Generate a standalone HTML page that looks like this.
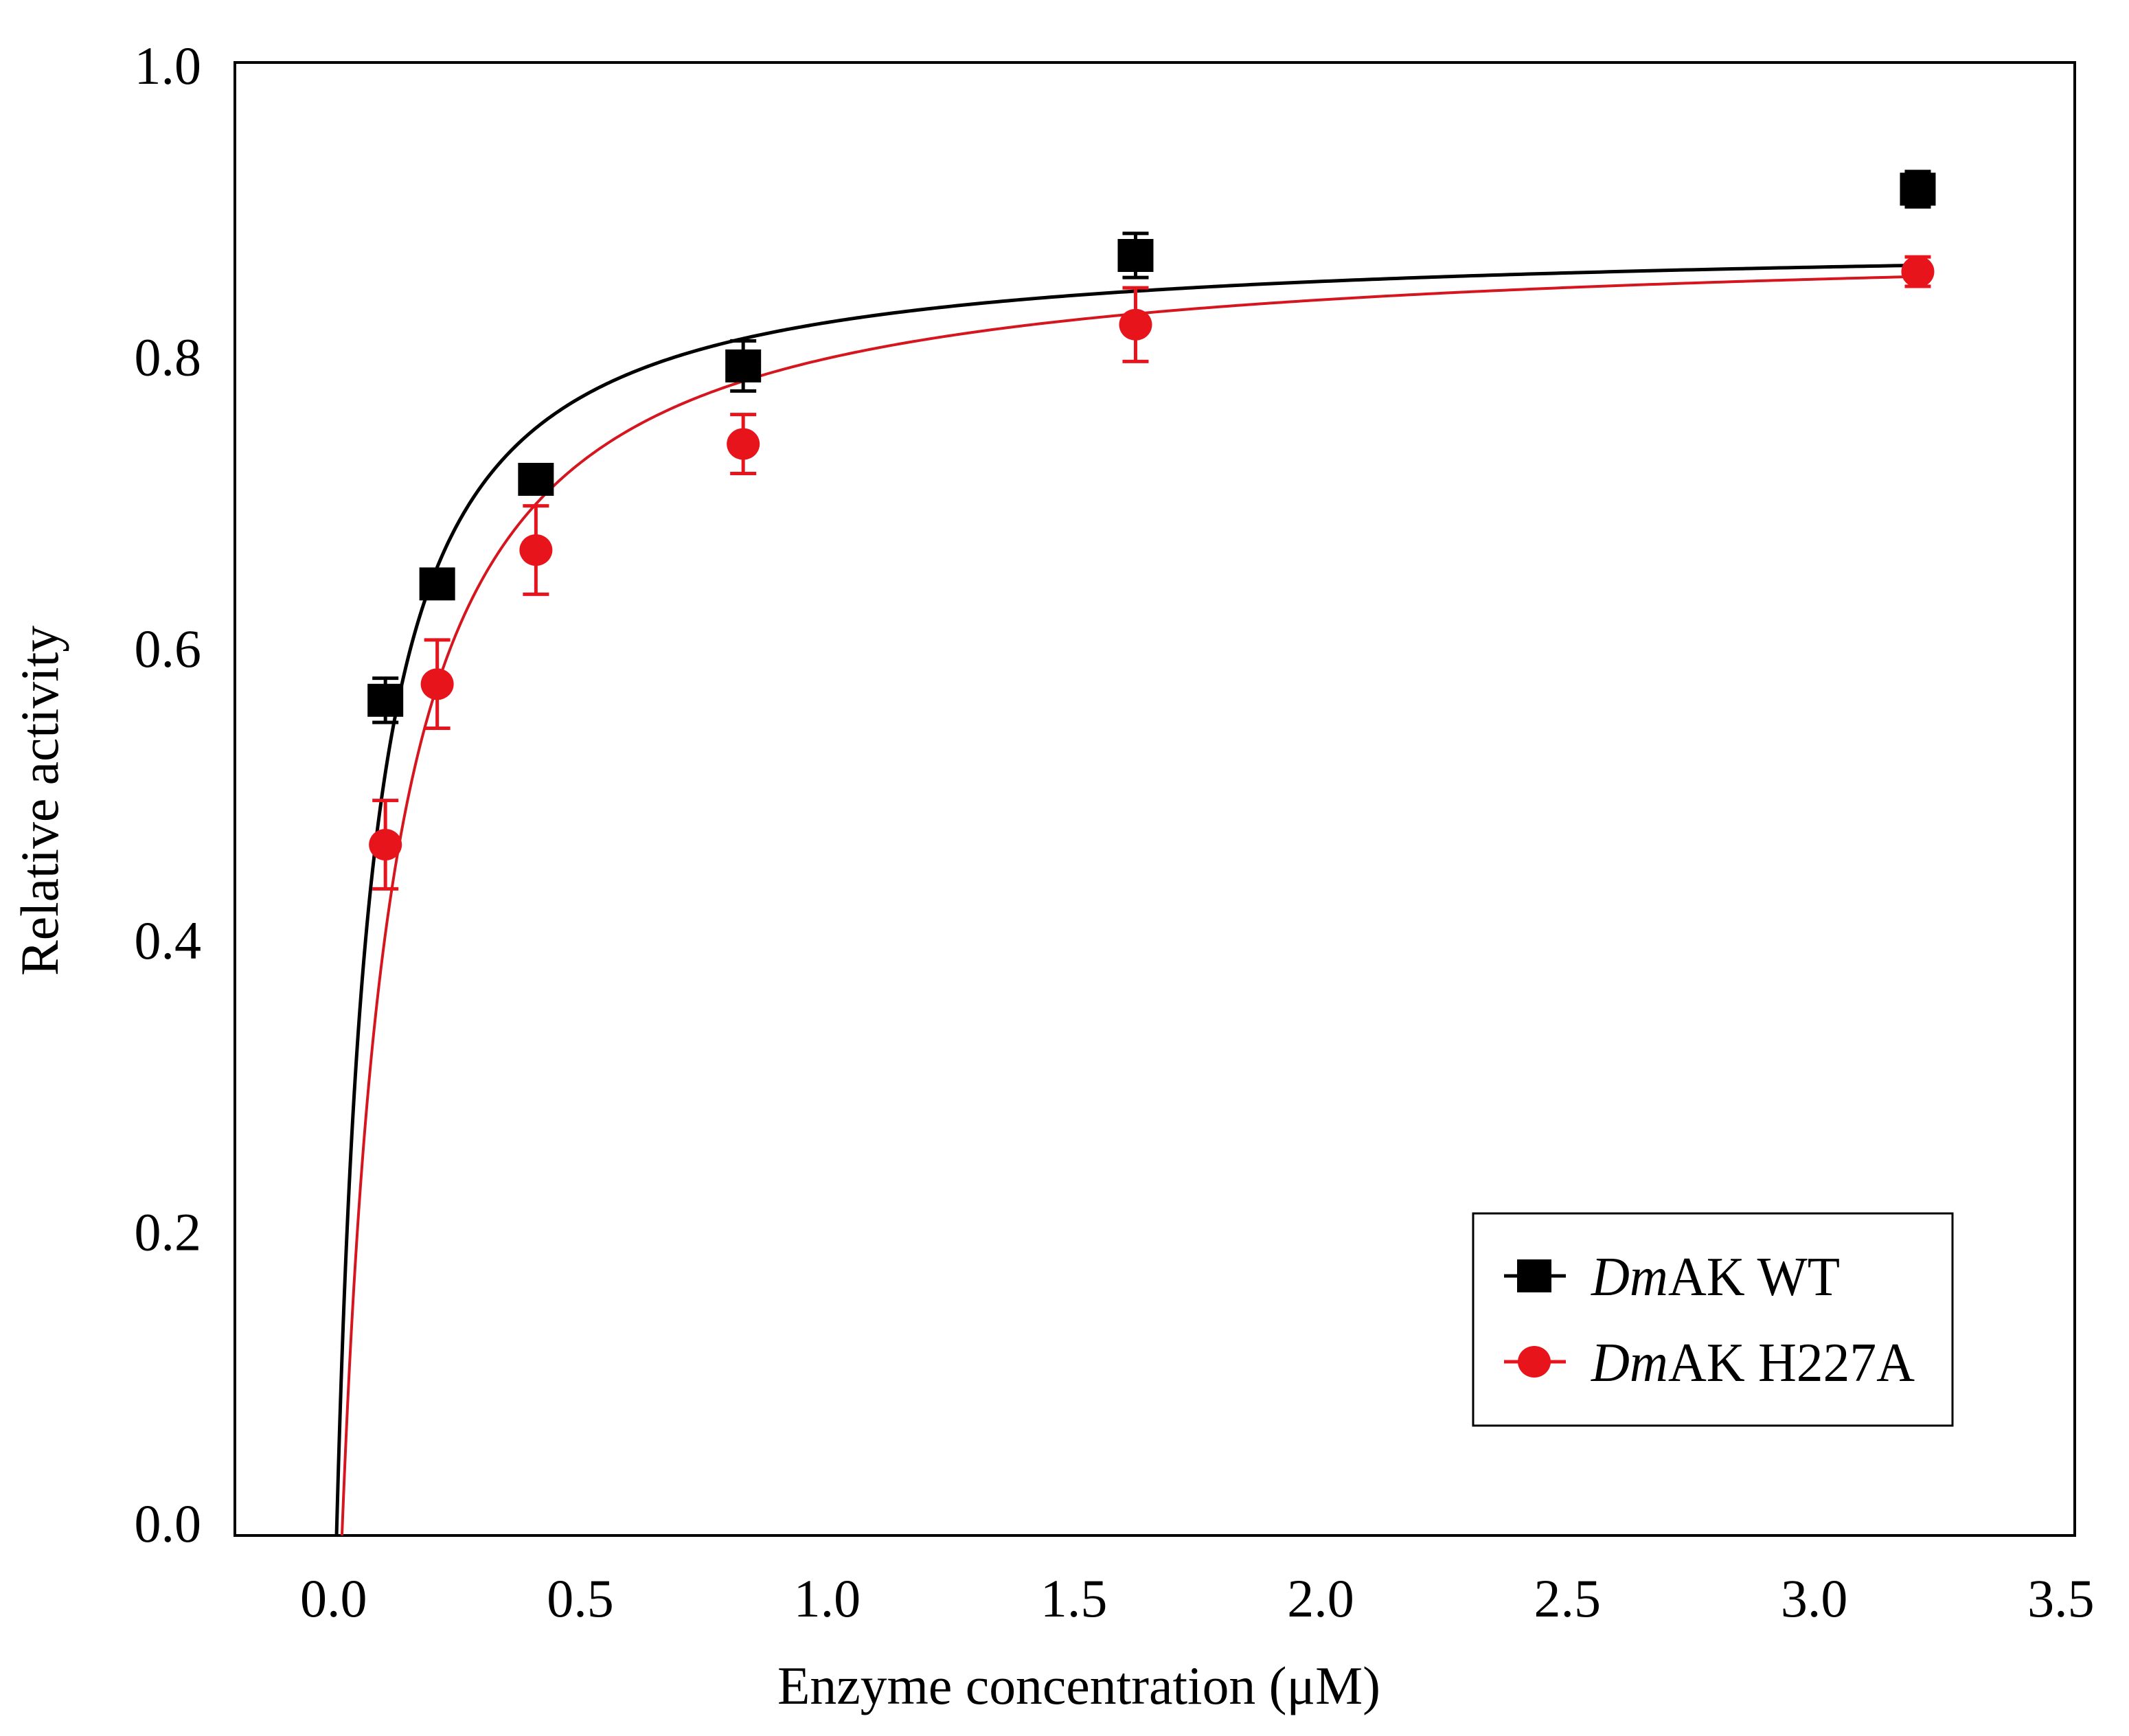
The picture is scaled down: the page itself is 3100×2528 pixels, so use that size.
<!DOCTYPE html>
<html><head><meta charset="utf-8"><style>
html,body{margin:0;padding:0;background:#fff;}
svg{display:block;}
text{font-family:"Liberation Serif","Times New Roman",serif;fill:#000;}
</style></head><body>
<svg id="chart" width="3100" height="2528" viewBox="0 0 3100 2528" xmlns="http://www.w3.org/2000/svg">
<defs><clipPath id="plotclip"><rect x="342" y="91" width="2679" height="2145"/></clipPath></defs>
<rect x="342" y="91" width="2679" height="2145" fill="none" stroke="#000" stroke-width="4"/>
<g id="xticks"></g>
<g id="yticks"></g>
<g id="curves" clip-path="url(#plotclip)"></g>
<g id="points"></g>
<text x="1571" y="2481" font-size="78" text-anchor="middle" textLength="878" lengthAdjust="spacingAndGlyphs">Enzyme concentration (μM)</text>
<text transform="translate(84,1166) rotate(-90)" font-size="78" text-anchor="middle" textLength="510" lengthAdjust="spacingAndGlyphs">Relative activity</text>
<g>
<rect x="2145" y="1767" width="698" height="309" fill="#fff" stroke="#000" stroke-width="3"/>
<g>
<line x1="2190" y1="1858" x2="2280" y2="1858" stroke="#000" stroke-width="5"/>
<rect x="2209" y="1834" width="50" height="48" fill="#000"/>
<text x="2317" y="1886" font-size="80" textLength="362" lengthAdjust="spacingAndGlyphs"><tspan font-style="italic">Dm</tspan>AK WT</text>
</g>
<g>
<line x1="2190" y1="1983" x2="2280" y2="1983" stroke="#e8141c" stroke-width="5"/>
<ellipse cx="2234" cy="1983" rx="24" ry="23" fill="#e8141c"/>
<text x="2317" y="2011" font-size="80" textLength="471" lengthAdjust="spacingAndGlyphs"><tspan font-style="italic">Dm</tspan>AK H227A</text>
</g>
</g>
</svg>
<script>
const xTicks = [0.0, 0.5, 1.0, 1.5, 2.0, 2.5, 3.0, 3.5];
const xTickLabels = ["0.0","0.5","1.0","1.5","2.0","2.5","3.0","3.5"];
const yTicks = [0.0, 0.2, 0.4, 0.6, 0.8, 1.0];
const yTickLabels = ["0.0","0.2","0.4","0.6","0.8","1.0"];
const concentrations = [0.105, 0.21, 0.41, 0.83, 1.625, 3.21];
const wtValues = [0.567, 0.646, 0.717, 0.794, 0.869, 0.914];
const wtErrors = [0.015, 0.008, 0.008, 0.017, 0.015, 0.012];
const mutValues = [0.469, 0.578, 0.669, 0.741, 0.822, 0.858];
const mutErrors = [0.030, 0.030, 0.030, 0.020, 0.025, 0.010];
const wtFit = [0.881, 0.0694, 0.006];
const mutFit = [0.882, 0.102, 0.017];

const NS = "http://www.w3.org/2000/svg";
const X0 = 342, X1 = 3021, Y0 = 2236, Y1 = 91;
const xMin = -0.2, xMax = 3.528, yMin = 0, yMax = 1;
function sx(v){ return X0 + (v - xMin) / (xMax - xMin) * (X1 - X0); }
function sy(v){ return Y0 - (v - yMin) / (yMax - yMin) * (Y0 - Y1); }
function mk(tag, attrs){ const e = document.createElementNS(NS, tag); for (const k in attrs) e.setAttribute(k, attrs[k]); return e; }

const gx = document.getElementById('xticks');
xTicks.forEach((t, i) => {
  const el = mk('text', {x: sx(t), y: 2354, 'font-size': 78, 'text-anchor': 'middle'});
  
  
  el.textContent = xTickLabels[i];
  gx.appendChild(el);
});
const gy = document.getElementById('yticks');
yTicks.forEach((t, i) => {
  const el = mk('text', {x: 293, y: sy(t) - 18 + 22 * t + 27, 'font-size': 78, 'text-anchor': 'end'});
  
  
  el.textContent = yTickLabels[i];
  gy.appendChild(el);
});

function curvePath(fit, xEnd){
  const vm = fit[0], k = fit[1], x0 = fit[2];
  let d = "";
  const n = 600;
  for (let i = 0; i <= n; i++) {
    const u = Math.pow(i / n, 3) * (xEnd - x0);
    const y = u <= 0 ? -1 : vm * u / (k + u);
    const px = sx(x0 + u), py = Math.min(sy(Math.max(y, -0.05)), Y0 + 50);
    d += (i ? "L" : "M") + px.toFixed(2) + "," + py.toFixed(2);
  }
  return d;
}
const gc = document.getElementById('curves');
const c1 = mk('path', {d: curvePath(wtFit, concentrations[concentrations.length-1]), fill: 'none', stroke: '#000', 'stroke-width': 5});


gc.appendChild(c1);
const c2 = mk('path', {d: curvePath(mutFit, concentrations[concentrations.length-1]), fill: 'none', stroke: '#d6161e', 'stroke-width': 4});


gc.appendChild(c2);

const gp = document.getElementById('points');
function errBar(x, v, e, color, name){
  const g = mk('g', {stroke: color, 'stroke-width': 5});
  
  
  const px = sx(x), top = sy(v + e), bot = sy(v - e);
  g.appendChild(mk('line', {x1: px, y1: top, x2: px, y2: bot}));
  g.appendChild(mk('line', {x1: px - 19, y1: top, x2: px + 19, y2: top}));
  g.appendChild(mk('line', {x1: px - 19, y1: bot, x2: px + 19, y2: bot}));
  gp.appendChild(g);
}
concentrations.forEach((x, i) => {
  errBar(x, mutValues[i], mutErrors[i], '#e8141c', 'h227a-error-bar');
  const c = mk('ellipse', {cx: sx(x), cy: sy(mutValues[i]), rx: 24, ry: 23, fill: '#e8141c'});
  
  
  gp.appendChild(c);
});
concentrations.forEach((x, i) => {
  errBar(x, wtValues[i], wtErrors[i], '#000', 'wt-error-bar');
  const r = mk('rect', {x: sx(x) - 26, y: sy(wtValues[i]) - 24, width: 52, height: 48, fill: '#000'});
  
  
  gp.appendChild(r);
});
</script>
</body></html>
